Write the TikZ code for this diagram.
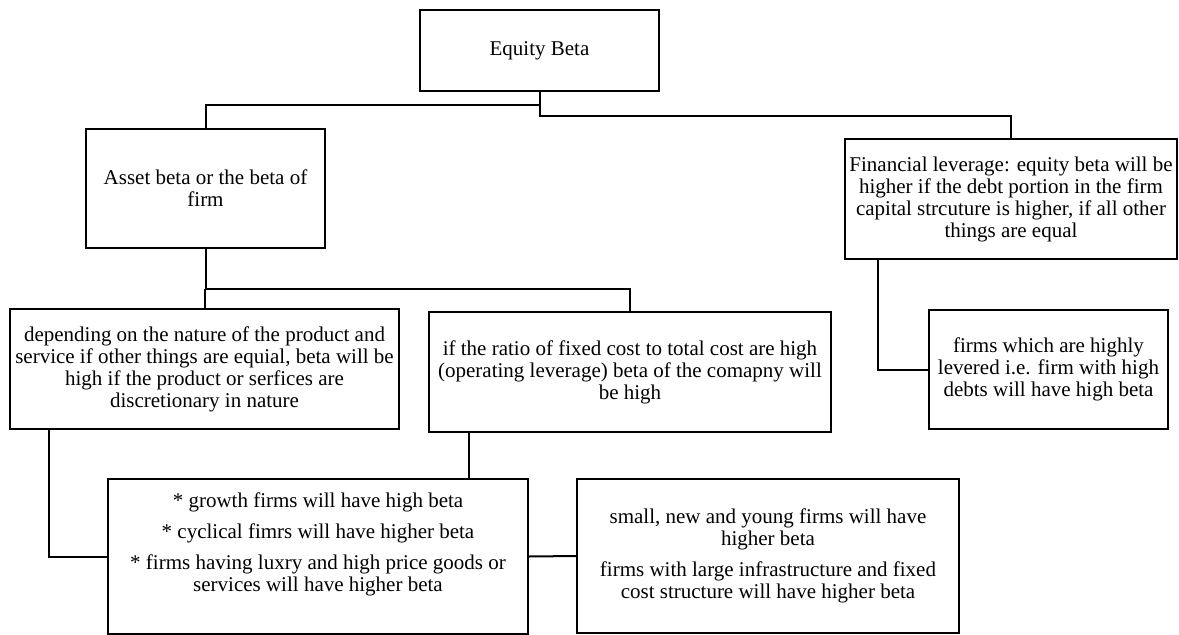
\documentclass[tikz,border=0pt]{standalone}
\usepackage{fontspec}
\setmainfont{Liberation Serif}
\begin{document}
\begin{tikzpicture}[x=1pt,y=-1pt,
  box/.style={draw=black, line width=2pt, rectangle, inner sep=0pt, anchor=north west, align=center,
    font=\fontsize{21}{22}\selectfont},
  txt/.style={inner sep=0pt, align=center, font=\fontsize{21}{22}\selectfont},
  conn/.style={draw=black, line width=2pt}]
\useasboundingbox (0,0) rectangle (1179,635);
\node[box, minimum width=239pt, minimum height=81pt] (eq) at (419,9) {Equity Beta};
\node[box, minimum width=239pt, minimum height=119pt] (asset) at (85,128) {Asset beta or the beta of\\firm};
\node[box, minimum width=332pt, minimum height=120pt] (fin) at (844,138)
  {Financial leverage: equity beta will be\\higher if the debt portion in the firm\\capital strcuture is higher, if all other\\things are equal};
\node[box, minimum width=389pt, minimum height=120pt] (dep) at (9,308)
  {depending on the nature of the product and\\service if other things are equial, beta will be\\high if the product or serfices are\\discretionary in nature};
\node[box, minimum width=402pt, minimum height=120pt] (ratio) at (428,311)
  {if the ratio of fixed cost to total cost are high\\(operating leverage) beta of the comapny will\\be high};
\node[box, minimum width=239pt, minimum height=119pt] (lev) at (928,309)
  {firms which are highly\\levered i.e. firm with high\\debts will have high beta};
\node[box, minimum width=420pt, minimum height=155pt] (star) at (107,478) {};
\node[txt, anchor=north] (startxt) at ([yshift=-15pt]star.north)
  {* growth firms will have high beta\\[9pt]* cyclical fimrs will have higher beta\\[9pt]* firms having luxry and high price goods or\\services will have higher beta};
\node[box, minimum width=382pt, minimum height=154pt] (small) at (576,478)
  {small, new and young firms will have\\higher beta\\[9pt]firms with large infrastructure and fixed\\cost structure will have higher beta};
% connectors
\draw[conn] (eq.south) -- ++(0,13) -| (asset.north);
\draw[conn] (eq.south) -- ++(0,24) -| (fin.north);
\draw[conn] (asset.south) -- ++(0,40) coordinate (j);
\draw[conn] (j -| dep.north) -- (dep.north);
\draw[conn] (j) -| (ratio.north);
\draw[conn] ([xshift=40pt]dep.south west) |- (star.west);
\draw[conn] ([xshift=41pt]ratio.south west) -- ([xshift=41pt]ratio.south west |- star.north);
\draw[conn] (star.east) -- (small.west);
\draw[conn] ([xshift=34pt]fin.south west) |- (lev.west);
\end{tikzpicture}
\end{document}
